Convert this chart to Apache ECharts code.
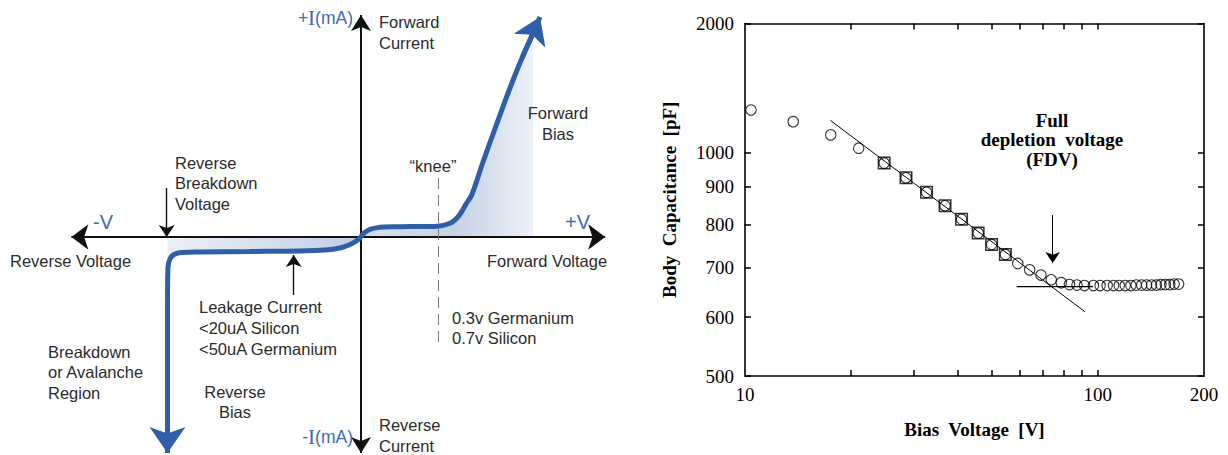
<!DOCTYPE html>
<html>
<head>
<meta charset="utf-8">
<script src="https://cdn.jsdelivr.net/npm/echarts@6/dist/echarts.min.js"></script>
<style>
  html, body { margin: 0; padding: 0; background: #fff; }
  #chart { width: 1228px; height: 455px; }
</style>
</head>
<body>
<div id="chart"></div>
<script>
// ---------- Diode I–V sketch (diagram units: one unit = one tenth of a division) ----------
const forwardCurve = [[0, 0], [0.3, 0.4], [0.9, 0.77], [1.9, 0.97], [2.9, 1.03], [4.9, 1.04], [7.6, 1.08],
  [8.9, 1.37], [9.6, 1.9], [10.07, 2.53], [10.5, 3.3], [11.07, 4.2], [12.2, 7.5], [13.57, 11.3],
  [14.9, 14.9], [16.1, 17.9], [17.2, 20.3]];
const reverseCurve = [[0, 0], [-0.4, -0.35], [-1.1, -0.75], [-2.1, -1.1], [-3.6, -1.3], [-6.1, -1.4],
  [-11.1, -1.45], [-16.1, -1.5], [-17.9, -1.55], [-18.7, -1.75], [-19.1, -2.2], [-19.3, -3.0],
  [-19.35, -6.3], [-19.35, -16.0]];
// arrow segments: [start, tip]
const forwardHead = [[16.1, 17.9], [17.9, 22.0]];
const reverseHead = [[-19.35, -16.0], [-19.35, -21.6]];
const currentAxis = [[0, -21.6], [0, 22.2]];
const voltageAxis = [[-28.96, 0], [24.42, 0]];
const breakdownPointer = [[-19.43, 4.9], [-19.43, 0]];
const leakagePointer = [[-6.73, -5.8], [-6.73, -1.8]];
const kneeMarker = [[7.73, 5.9], [7.73, -10.6]];

// ---------- Body capacitance against bias voltage ----------
const biasVoltage = [10.4, 13.7, 17.5, 21.0, 24.8, 28.6, 32.7, 36.9, 41.1, 45.8,
  50.0, 54.7, 59.3, 64.1, 69.0, 73.8, 78.8, 83.1, 87.3, 91.7,
  97.2, 101.5, 106.3, 110.8, 115.0, 119.6, 124.1, 128.5, 133.2, 137.5,
  142.0, 146.6, 151.0, 155.4, 159.9, 164.6, 169.5];
const bodyCapacitance = [1257, 1181, 1100, 1024, 968, 925, 884, 848, 813, 779,
  752, 729, 709, 695, 684, 674, 668, 664, 663, 662,
  662, 662, 662, 662, 662, 662, 662, 663, 663, 663,
  663, 663, 664, 664, 664, 665, 665];
const fitFirst = 4, fitLast = 11;          // boxed points used for the slope fit
const slopeFit = [[17.46, 1189], [23.09, 1000], [92.1, 610]];
const plateauFit = [[58.9, 660], [97.0, 660]];
const fdvPointer = [[74.5, 824], [74.5, 710]];
const xTickLabels = [10, 100, 200];
const xTickMarks = [20, 30, 40, 50, 60, 70, 80, 90, 100];
const yTickLabels = [500, 600, 700, 800, 900, 1000, 2000];

// capacitance scale: logarithmic, compressed above 1000 pF
const yBreak = 1000, upperScale = 0.578;
const yt = c => c <= yBreak ? Math.log10(c) : Math.log10(yBreak) + upperScale * Math.log10(c / yBreak);
const yInv = t => t <= Math.log10(yBreak) ? Math.pow(10, t) : yBreak * Math.pow(10, (t - Math.log10(yBreak)) / upperScale);
const xt = v => Math.log10(v);
const cvPair = ([v, c]) => [xt(v), yt(c)];

const BLUE = '#2f5fa9';
const LABEL_BLUE = '#3b6cb5';
const INK = '#2b2b2b';
const SANS = '"Liberation Sans", Arial, sans-serif';
const SERIF = '"Liberation Serif", "Times New Roman", serif';

const forwardFill = new echarts.graphic.LinearGradient(0, 0, 1, 0, [
  { offset: 0, color: '#d7dfed' }, { offset: 0.55, color: '#c6d2e6' }, { offset: 1, color: '#eef2f8' }]);
const reverseFill = new echarts.graphic.LinearGradient(0, 0, 1, 0, [
  { offset: 0, color: '#ebf0f7' }, { offset: 1, color: '#c2cee4' }]);

// straight segment ending in an arrowhead; head = [width basis, length]
function arrowLines(coords, color, width, head, z) {
  return {
    type: 'lines', coordinateSystem: 'cartesian2d', xAxisIndex: 0, yAxisIndex: 0, z,
    silent: true, symbol: ['none', 'arrow'], symbolSize: [head, head],
    lineStyle: { color, width, opacity: 1 },
    data: [{ coords }]
  };
}

// annotation text of the sketch
const sketchLabels = [
  ['Forward', 379, 22], ['Current', 379, 43],
  ['Reverse', 379, 425], ['Current', 379, 446],
  ['Reverse Voltage', 10, 261], ['Forward Voltage', 487, 261],
  ['Reverse', 175, 163], ['Breakdown', 175, 183], ['Voltage', 175, 204],
  ['\u201Cknee\u201D', 433, 166, 'center'],
  ['Forward', 558, 113, 'center'], ['Bias', 558, 134, 'center'],
  ['Leakage Current', 199, 307], ['<20uA Silicon', 199, 328], ['<50uA Germanium', 199, 349],
  ['0.3v Germanium', 452, 318], ['0.7v Silicon', 452, 338],
  ['Breakdown', 48, 352], ['or Avalanche', 48, 372], ['Region', 48, 393],
  ['Reverse', 235, 392, 'center'], ['Bias', 235, 412, 'center']
];
const graphics = sketchLabels.map(([text, x, y, align]) => ({
  type: 'text', x, y, z: 50, silent: true,
  style: { text, fill: INK, font: '16.5px ' + SANS, align: align || 'left', verticalAlign: 'middle' }
}));
const blueRich = {
  s: { font: '17.5px ' + SANS, fontFamily: SANS, fontSize: 17.5, fill: LABEL_BLUE },
  i: { font: '21px ' + SERIF, fontFamily: SERIF, fontSize: 21, fill: LABEL_BLUE }
};
const noteFont = 'bold 19px ' + SERIF;
graphics.push(
  { type: 'text', x: 353, y: 18, z: 50, style: { text: '{s|+}{i|I}{s|(mA)}', rich: blueRich, fill: LABEL_BLUE, align: 'right', verticalAlign: 'middle' } },
  { type: 'text', x: 353, y: 437, z: 50, style: { text: '{s|-}{i|I}{s|(mA)}', rich: blueRich, fill: LABEL_BLUE, align: 'right', verticalAlign: 'middle' } },
  { type: 'text', x: 93, y: 222, z: 50, style: { text: '-V', fill: LABEL_BLUE, font: '20px ' + SANS, align: 'left', verticalAlign: 'middle' } },
  { type: 'text', x: 565, y: 222, z: 50, style: { text: '+V', fill: LABEL_BLUE, font: '20px ' + SANS, align: 'left', verticalAlign: 'middle' } },
  // Full depletion voltage note
  { type: 'text', x: 1052, y: 120, z: 50, style: { text: 'Full', fill: '#000', font: noteFont, align: 'center', verticalAlign: 'middle' } },
  { type: 'text', x: 1052, y: 139.8, z: 50, style: { text: 'depletion  voltage', fill: '#000', font: noteFont, align: 'center', verticalAlign: 'middle' } },
  { type: 'text', x: 1052, y: 159.6, z: 50, style: { text: '(FDV)', fill: '#000', font: noteFont, align: 'center', verticalAlign: 'middle' } }
);

const hiddenAxis = { show: false };
const tickStyle = { show: true, inside: true, length: 6, lineStyle: { color: '#000', width: 1.5 } };
const frameLine = { show: true, onZero: false, lineStyle: { color: '#000', width: 1.6 } };

const option = {
  animation: false,
  backgroundColor: '#fff',
  grid: [
    { left: 1, top: 7, width: 620, height: 450, containLabel: false, outerBoundsMode: 'none' },
    { left: 745, top: 23.5, width: 459, height: 352.5, containLabel: false, outerBoundsMode: 'none' }
  ],
  xAxis: [
    Object.assign({ gridIndex: 0, type: 'value', min: -36, max: 26 }, hiddenAxis),
    {
      gridIndex: 1, type: 'value', min: xt(10), max: xt(200), position: 'bottom',
      axisLine: frameLine, splitLine: { show: false },
      axisTick: Object.assign({ customValues: xTickMarks.map(xt) }, tickStyle),
      axisLabel: {
        customValues: xTickLabels.map(xt), formatter: v => String(Math.round(Math.pow(10, v))),
        fontFamily: SERIF, fontSize: 19, color: '#000', margin: 9
      },
      name: 'Bias  Voltage  [V]', nameLocation: 'middle', nameGap: 44,
      nameTextStyle: { fontFamily: SERIF, fontSize: 19, fontWeight: 'bold', color: '#000' }
    },
    {
      gridIndex: 1, type: 'value', min: xt(10), max: xt(200), position: 'top',
      axisLine: frameLine, splitLine: { show: false },
      axisTick: Object.assign({ customValues: xTickMarks.map(xt) }, tickStyle),
      axisLabel: { show: false }
    }
  ],
  yAxis: [
    Object.assign({ gridIndex: 0, type: 'value', min: -22, max: 23 }, hiddenAxis),
    {
      gridIndex: 1, type: 'value', min: yt(500), max: yt(2000), position: 'left',
      axisLine: frameLine, splitLine: { show: false },
      axisTick: Object.assign({ customValues: yTickLabels.map(yt) }, tickStyle),
      axisLabel: {
        customValues: yTickLabels.map(yt), formatter: v => String(Math.round(yInv(v))),
        fontFamily: SERIF, fontSize: 19, color: '#000', margin: 11
      },
      name: 'Body  Capacitance  [pF]', nameLocation: 'middle', nameGap: 66,
      nameTextStyle: { fontFamily: SERIF, fontSize: 19, fontWeight: 'bold', color: '#000' }
    },
    {
      gridIndex: 1, type: 'value', min: yt(500), max: yt(2000), position: 'right',
      axisLine: frameLine, splitLine: { show: false },
      axisTick: Object.assign({ customValues: yTickLabels.map(yt) }, tickStyle),
      axisLabel: { show: false }
    }
  ],
  series: [
    // shaded bias regions
    { type: 'line', xAxisIndex: 0, yAxisIndex: 0, z: 1, silent: true, data: forwardCurve, smooth: 0.35,
      showSymbol: false, lineStyle: { width: 0 }, areaStyle: { color: forwardFill, opacity: 1, origin: 0 } },
    { type: 'line', xAxisIndex: 0, yAxisIndex: 0, z: 1, silent: true, data: reverseCurve, smooth: 0.35,
      showSymbol: false, lineStyle: { width: 0 }, areaStyle: { color: reverseFill, opacity: 1, origin: 0 } },
    // axes of the sketch
    Object.assign(arrowLines(voltageAxis, '#111', 2, [19, 17], 2), { symbol: ['arrow', 'arrow'] }),
    Object.assign(arrowLines(currentAxis, '#111', 2, [15, 16], 2), { symbol: ['arrow', 'arrow'] }),
    // knee marker
    { type: 'lines', coordinateSystem: 'cartesian2d', xAxisIndex: 0, yAxisIndex: 0, z: 2, silent: true,
      lineStyle: { color: '#777', width: 1, type: [11, 6], opacity: 1 }, data: [{ coords: kneeMarker }] },
    // pointers
    arrowLines(breakdownPointer, '#111', 1.4, [12, 12], 2),
    arrowLines(leakagePointer, '#111', 1.4, [12, 12], 2),
    // characteristic curve
    { type: 'line', xAxisIndex: 0, yAxisIndex: 0, z: 3, silent: true, data: forwardCurve, smooth: 0.35,
      showSymbol: false, lineStyle: { color: BLUE, width: 5 } },
    { type: 'line', xAxisIndex: 0, yAxisIndex: 0, z: 3, silent: true, data: reverseCurve, smooth: 0.35,
      showSymbol: false, lineStyle: { color: BLUE, width: 5 } },
    arrowLines(forwardHead, BLUE, 5, [26, 26], 3),
    arrowLines(reverseHead, BLUE, 5, [27, 26], 3),

    // capacitance measurements
    { type: 'scatter', xAxisIndex: 1, yAxisIndex: 1, z: 4, silent: true, symbol: 'circle', symbolSize: 10.5,
      itemStyle: { color: 'transparent', borderColor: '#000', borderWidth: 1.1 },
      data: biasVoltage.map((v, i) => cvPair([v, bodyCapacitance[i]])) },
    { type: 'scatter', xAxisIndex: 1, yAxisIndex: 1, z: 4, silent: true, symbol: 'rect', symbolSize: 11.5,
      itemStyle: { color: 'transparent', borderColor: '#000', borderWidth: 1.5 },
      data: biasVoltage.slice(fitFirst, fitLast + 1).map((v, i) => cvPair([v, bodyCapacitance[fitFirst + i]])) },
    { type: 'line', xAxisIndex: 1, yAxisIndex: 1, z: 3, silent: true, showSymbol: false,
      lineStyle: { color: '#000', width: 1 }, data: slopeFit.map(cvPair) },
    { type: 'line', xAxisIndex: 1, yAxisIndex: 1, z: 3, silent: true, showSymbol: false,
      lineStyle: { color: '#000', width: 1.2 }, data: plateauFit.map(cvPair) },
    { type: 'lines', coordinateSystem: 'cartesian2d', xAxisIndex: 1, yAxisIndex: 1, z: 3, silent: true,
      symbol: ['none', 'arrow'], symbolSize: [[11, 11], [11, 11]],
      lineStyle: { color: '#000', width: 1, opacity: 1 }, data: [{ coords: fdvPointer.map(cvPair) }] }
  ],
  graphic: graphics
};

const chart = echarts.init(document.getElementById('chart'), null, { renderer: 'svg' });
chart.setOption(option);
</script>
</body>
</html>
